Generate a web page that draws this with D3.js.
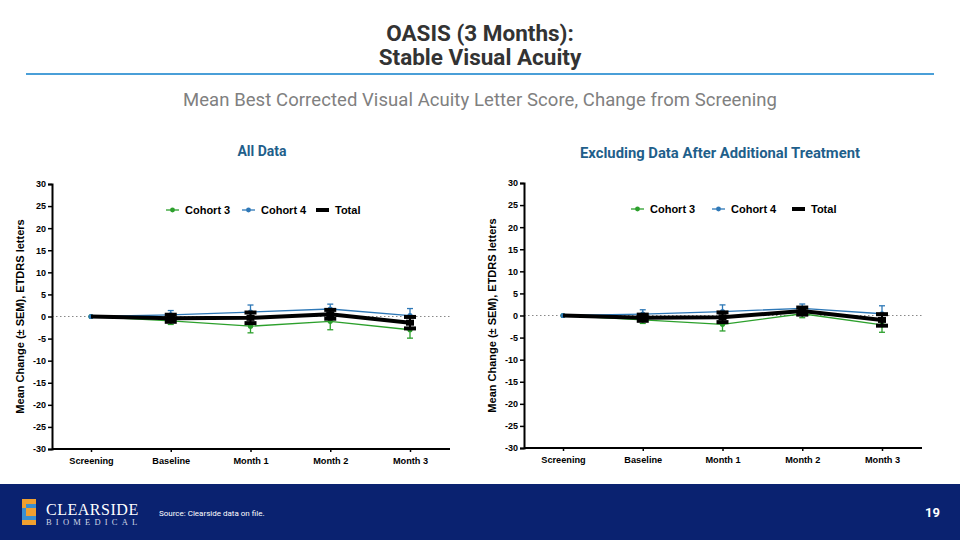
<!DOCTYPE html>
<html><head><meta charset="utf-8">
<script src="https://cdn.jsdelivr.net/npm/d3@7"></script>
<style>body{margin:0;background:#fff}svg{display:block}</style>
</head><body>
<svg id="c" width="960" height="540"></svg>
<script>
const categories = ["Screening","Baseline","Month 1","Month 2","Month 3"];
const yTicks = [30,25,20,15,10,5,0,-5,-10,-15,-20,-25,-30];
// All Data
const allCohort3 = [0,-1.0,-2.2,-1.1,-3.0];
const allCohort3Sem = [0,0.8,1.5,1.9,1.9];
const allCohort4 = [0,0.35,1.0,1.7,0.2];
const allCohort4Sem = [0,1.0,1.6,1.1,1.6];
const allTotal = [0,-0.4,-0.3,0.5,-1.4];
const allTotalSem = [0,0.8,1.2,1.0,1.3];
// Excluding Data After Additional Treatment
const exCohort3 = [0,-1.0,-2.0,0.4,-2.1];
const exCohort3Sem = [0,0.8,1.5,0.9,1.7];
const exCohort4 = [0,0.3,0.9,1.6,0.4];
const exCohort4Sem = [0,1.0,1.5,1.0,1.8];
const exTotal = [0,-0.5,-0.4,1.0,-1.0];
const exTotalSem = [0,0.7,1.1,0.8,1.3];

const C3 = "#2ca02c", C4 = "#2e78b7", CT = "#000";
const svg = d3.select("#c");

// Header
svg.append("text").attr("x",480).attr("y",41).attr("text-anchor","middle")
  .attr("font-family","Roboto").attr("font-weight","bold").attr("font-size",22.5)
  .attr("fill","#333").text("OASIS (3 Months):");
svg.append("text").attr("x",480).attr("y",65).attr("text-anchor","middle")
  .attr("font-family","Roboto").attr("font-weight","bold").attr("font-size",22.5)
  .attr("fill","#333").text("Stable Visual Acuity");
svg.append("line").attr("x1",26).attr("x2",934).attr("y1",74).attr("y2",74)
  .attr("stroke","#4a9fd8").attr("stroke-width",2);
svg.append("text").attr("x",480).attr("y",106).attr("text-anchor","middle")
  .attr("font-family","Roboto").attr("font-weight","400").attr("font-size",18.5)
  .attr("fill","#808080").attr("textLength",594).text("Mean Best Corrected Visual Acuity Letter Score, Change from Screening");

function panel(opts){
  const g = svg.append("g");
  const x = d3.scalePoint().domain(categories).range([opts.x0+39, opts.x1-40]);
  const y = d3.scaleLinear().domain([-30,30]).range([opts.yb, opts.yt]);
  g.append("text").attr("x",opts.tx).attr("y",opts.ty).attr("text-anchor","middle")
    .attr("font-family","Roboto").attr("font-weight","bold").attr("font-size",opts.tfs)
    .attr("fill","#1f5f8b").text(opts.title);
  // zero line
  g.append("line").attr("x1",opts.x0).attr("x2",opts.x1+2).attr("y1",y(0)).attr("y2",y(0))
    .attr("stroke","#888").attr("stroke-width",1.2).attr("stroke-dasharray","1.5,2.5");
  const ya = g.append("g").attr("transform",`translate(${opts.x0},0)`)
    .call(d3.axisLeft(y).tickValues(yTicks).tickSize(4).tickPadding(2).tickFormat(d=>String(d)));
  ya.select(".domain").attr("stroke","#000").attr("stroke-width",2);
  ya.selectAll(".tick line").attr("stroke-width",1.5);
  ya.selectAll("text").attr("font-family","Liberation Sans").attr("font-weight","bold").attr("font-size",9).attr("fill","#000");
  const xa = g.append("g").attr("transform",`translate(0,${opts.yb})`)
    .call(d3.axisBottom(x).tickSize(3).tickPadding(5).tickSizeOuter(0));
  xa.select(".domain").attr("stroke","#000").attr("stroke-width",2)
    .attr("d",`M${opts.x0},0H${opts.x1}`);
  xa.selectAll(".tick line").attr("stroke-width",1.5);
  xa.selectAll("text").attr("font-family","Liberation Sans").attr("font-weight","bold").attr("font-size",9.2).attr("fill","#000");
  g.append("text").attr("transform",`translate(${opts.x0-28},${(opts.yt+opts.yb)/2}) rotate(-90)`)
    .attr("text-anchor","middle").attr("font-family","Liberation Sans").attr("font-weight","bold")
    .attr("font-size",11).attr("fill","#000").text("Mean Change (\u00b1 SEM), ETDRS letters");

  const line = d3.line().x((d,i)=>x(categories[i])).y(d=>y(d));
  function series(vals, sem, color, thick){
    const s = g.append("g");
    s.append("path").datum(vals).attr("d",line).attr("fill","none")
      .attr("stroke",color).attr("stroke-width",thick?4:1.3);
    vals.forEach((v,i)=>{
      if(i===0) return;
      const cx = x(categories[i]);
      const cw = thick?6:3;
      if(thick){
        s.append("line").attr("x1",cx).attr("x2",cx).attr("y1",y(v+sem[i])).attr("y2",y(v-sem[i]))
          .attr("stroke",color).attr("stroke-width",2);
        [v+sem[i], v-sem[i]].forEach(e=>s.append("line").attr("x1",cx-cw).attr("x2",cx+cw)
          .attr("y1",y(e)).attr("y2",y(e)).attr("stroke",color).attr("stroke-width",4));
      } else {
        const up = color===C4;
        const e = up? v+sem[i] : v-sem[i];
        s.append("line").attr("x1",cx).attr("x2",cx).attr("y1",y(v)).attr("y2",y(e))
          .attr("stroke",color).attr("stroke-width",1.3);
        s.append("line").attr("x1",cx-cw).attr("x2",cx+cw).attr("y1",y(e)).attr("y2",y(e))
          .attr("stroke",color).attr("stroke-width",1.3);
      }
    });
    vals.forEach((v,i)=>{
      const cx = x(categories[i]);
      if(thick){ if(i>0) s.append("rect").attr("x",cx-4).attr("y",y(v)-3).attr("width",8).attr("height",6).attr("fill",color); }
      else s.append("circle").attr("cx",cx).attr("cy",y(v)).attr("r",2.6).attr("fill",color);
    });
  }
  series(opts.c3, opts.c3s, C3, false);
  series(opts.c4, opts.c4s, C4, false);
  series(opts.t, opts.ts, CT, true);

  // legend
  const items = [["Cohort 3",C3,false],["Cohort 4",C4,false],["Total",CT,true]];
  items.forEach((it,k)=>{
    const lx = opts.lx[k], ly = opts.ly;
    if(it[2]){
      g.append("line").attr("x1",lx).attr("x2",lx+13).attr("y1",ly).attr("y2",ly).attr("stroke",it[1]).attr("stroke-width",4);
    } else {
      g.append("line").attr("x1",lx).attr("x2",lx+13).attr("y1",ly).attr("y2",ly).attr("stroke",it[1]).attr("stroke-width",1.3);
      g.append("circle").attr("cx",lx+6.5).attr("cy",ly).attr("r",2.4).attr("fill",it[1]);
    }
    g.append("text").attr("x",lx+19).attr("y",ly+4).attr("font-family","Liberation Sans")
      .attr("font-weight","bold").attr("font-size",11).attr("fill","#000").text(it[0]);
  });
}

panel({x0:52,x1:450,yt:184,yb:449,tx:262,ty:156,tfs:14,title:"All Data",
  c3:allCohort3,c3s:allCohort3Sem,c4:allCohort4,c4s:allCohort4Sem,t:allTotal,ts:allTotalSem,
  lx:[166,242,316],ly:210});
panel({x0:524,x1:922,yt:183,yb:448,tx:720,ty:158,tfs:14.8,title:"Excluding Data After Additional Treatment",
  c3:exCohort3,c3s:exCohort3Sem,c4:exCohort4,c4s:exCohort4Sem,t:exTotal,ts:exTotalSem,
  lx:[631,712,792],ly:209});

// Footer
svg.append("rect").attr("x",0).attr("y",484).attr("width",960).attr("height",56).attr("fill","#0a2270");
const lg = svg.append("g");
lg.append("path").attr("d","M22,499 h14 v5 h-10 v4 h10 v17 h-14 v-5 h10 v-4 h-10 z").attr("fill","#f0a030");
lg.append("path").attr("d","M26,504 h10 v4 h-10 z M22,508 h4 v8 h10 v4 h-14 z").attr("fill","#3a8fd0");
svg.append("text").attr("x",46).attr("y",515).attr("font-family","Liberation Serif")
  .attr("font-size",16).attr("fill","#fff").attr("letter-spacing","0.8").attr("textLength",93).text("CLEARSIDE");
svg.append("text").attr("x",46).attr("y",525).attr("font-family","Liberation Serif")
  .attr("font-size",8.5).attr("fill","#cfd6e6").attr("letter-spacing","4.2").text("BIOMEDICAL");
svg.append("text").attr("x",159).attr("y",516).attr("font-family","Roboto")
  .attr("font-size",8).attr("fill","#fff").text("Source: Clearside data on file.");
svg.append("text").attr("x",940).attr("y",517).attr("text-anchor","end").attr("font-family","Roboto")
  .attr("font-weight","bold").attr("font-size",13).attr("fill","#fff").text("19");
</script>
</body></html>
